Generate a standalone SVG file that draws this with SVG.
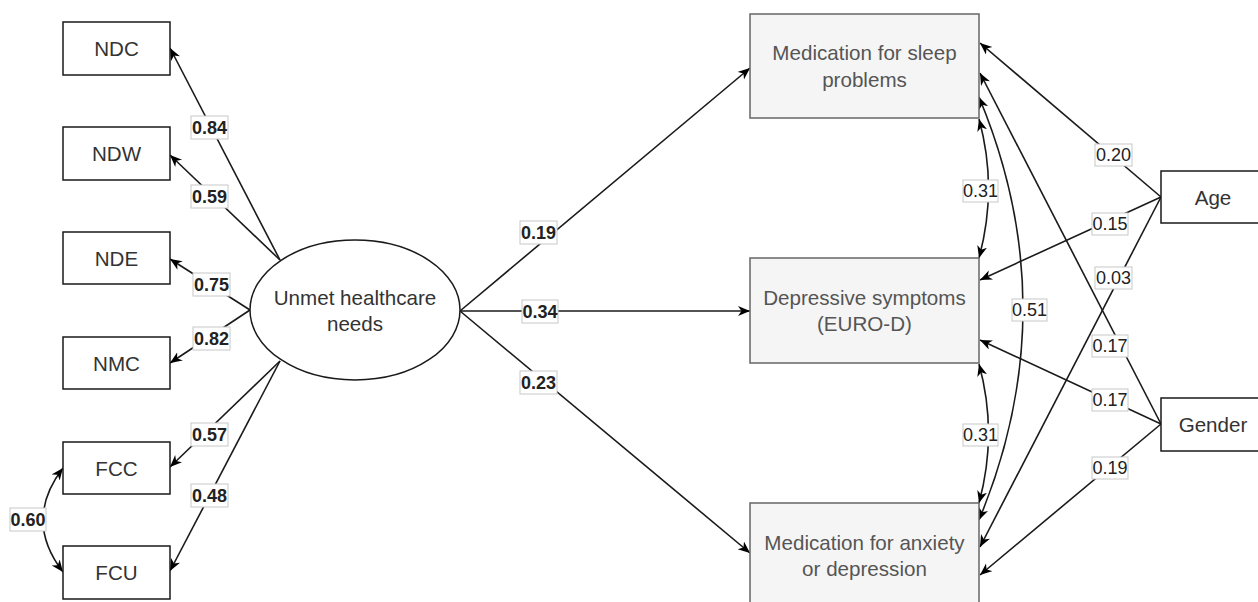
<svg xmlns="http://www.w3.org/2000/svg" width="1258" height="602" viewBox="0 0 1258 602">
<style>
.box{fill:#fff;stroke:#1a1a1a;stroke-width:1.5}
.gbox{fill:#f5f5f5;stroke:#666;stroke-width:1.5}
.nt{font-family:"Liberation Sans",Arial,sans-serif;font-size:20.6px;fill:#333;text-anchor:middle;dominant-baseline:central}
.gt{font-family:"Liberation Sans",Arial,sans-serif;font-size:20.6px;fill:#555;text-anchor:middle;dominant-baseline:central}
.ln{fill:none;stroke:#1a1a1a;stroke-width:1.6}
.lb{fill:#fff;stroke:#c8c8c8;stroke-width:1}
.lt{font-family:"Liberation Sans",Arial,sans-serif;font-size:18px;fill:#222;text-anchor:middle;dominant-baseline:central}
.b{font-weight:bold}
</style>
<defs>
<marker id="ar" markerUnits="userSpaceOnUse" markerWidth="14" markerHeight="12" refX="12" refY="5" orient="auto-start-reverse">
<path d="M0,0 L12,5 L0,10 L3.5,5 Z" fill="#000"/>
</marker>
</defs>
<g id="connectors">
<path class="ln" d="M280,260 L170,48" marker-end="url(#ar)"/>
<path class="ln" d="M280,260 L170,155" marker-end="url(#ar)"/>
<path class="ln" d="M250,310 L170,259" marker-end="url(#ar)"/>
<path class="ln" d="M250,310 L170,363" marker-end="url(#ar)"/>
<path class="ln" d="M280,361 L170,467" marker-end="url(#ar)"/>
<path class="ln" d="M280,361 L170,571" marker-end="url(#ar)"/>
<path class="ln" d="M63,468 Q23,520 63,572" marker-start="url(#ar)" marker-end="url(#ar)"/>
<path class="ln" d="M460,311 L750,68" marker-end="url(#ar)"/>
<path class="ln" d="M460,311 L750,311" marker-end="url(#ar)"/>
<path class="ln" d="M460,311 L750,553" marker-end="url(#ar)"/>
<path class="ln" d="M979,119 Q998,188 979,258" marker-start="url(#ar)" marker-end="url(#ar)"/>
<path class="ln" d="M979,364 Q998,433 979,503" marker-start="url(#ar)" marker-end="url(#ar)"/>
<path class="ln" d="M979,97 Q1067,308 979,520" marker-start="url(#ar)" marker-end="url(#ar)"/>
<path class="ln" d="M1161,197 L980,43" marker-end="url(#ar)"/>
<path class="ln" d="M1161,197 L980,280" marker-end="url(#ar)"/>
<path class="ln" d="M1161,197 L980,547" marker-end="url(#ar)"/>
<path class="ln" d="M1161,424 L980,73" marker-end="url(#ar)"/>
<path class="ln" d="M1161,424 L980,340" marker-end="url(#ar)"/>
<path class="ln" d="M1161,424 L980,575" marker-end="url(#ar)"/>
</g>
<g id="labels">
<rect class="lb" x="191" y="116" width="37" height="23"/><text class="lt b" x="209.5" y="127.5">0.84</text>
<rect class="lb" x="191" y="185" width="37" height="23"/><text class="lt b" x="209.5" y="196.5">0.59</text>
<rect class="lb" x="193" y="273" width="37" height="23"/><text class="lt b" x="211.5" y="284.5">0.75</text>
<rect class="lb" x="193" y="327" width="37" height="23"/><text class="lt b" x="211.5" y="338.5">0.82</text>
<rect class="lb" x="191" y="423" width="37" height="23"/><text class="lt b" x="209.5" y="434.5">0.57</text>
<rect class="lb" x="191" y="484" width="37" height="23"/><text class="lt b" x="209.5" y="495.5">0.48</text>
<rect class="lb" x="10" y="508" width="36" height="23"/><text class="lt b" x="28" y="519.5">0.60</text>
<rect class="lb" x="520" y="221" width="37" height="23"/><text class="lt b" x="538.5" y="232.5">0.19</text>
<rect class="lb" x="522" y="300" width="36" height="23"/><text class="lt b" x="540" y="311.5">0.34</text>
<rect class="lb" x="520" y="371" width="37" height="23"/><text class="lt b" x="538.5" y="382.5">0.23</text>
<rect class="lb" x="963" y="180" width="35" height="22"/><text class="lt" x="980.5" y="191">0.31</text>
<rect class="lb" x="963" y="424" width="35" height="22"/><text class="lt" x="980.5" y="435">0.31</text>
<rect class="lb" x="1012" y="299" width="35" height="22"/><text class="lt" x="1029.5" y="310">0.51</text>
<rect class="lb" x="1095" y="144" width="37" height="22"/><text class="lt" x="1113.5" y="155">0.20</text>
<rect class="lb" x="1092" y="213" width="36" height="22"/><text class="lt" x="1110" y="224">0.15</text>
<rect class="lb" x="1095" y="267" width="37" height="22"/><text class="lt" x="1113.5" y="278">0.03</text>
<rect class="lb" x="1092" y="335" width="36" height="22"/><text class="lt" x="1110" y="346">0.17</text>
<rect class="lb" x="1092" y="389" width="36" height="22"/><text class="lt" x="1110" y="400">0.17</text>
<rect class="lb" x="1092" y="457" width="36" height="22"/><text class="lt" x="1110" y="468">0.19</text>
</g>
<g id="NDC"><rect class="box" x="63" y="22" width="107" height="53"/><text class="nt" x="116.5" y="48.5">NDC</text></g>
<g id="NDW"><rect class="box" x="63" y="127" width="107" height="53"/><text class="nt" x="116.5" y="153.5">NDW</text></g>
<g id="NDE"><rect class="box" x="63" y="232" width="107" height="52"/><text class="nt" x="116.5" y="258">NDE</text></g>
<g id="NMC"><rect class="box" x="63" y="337" width="107" height="52"/><text class="nt" x="116.5" y="363">NMC</text></g>
<g id="FCC"><rect class="box" x="63" y="442" width="107" height="52"/><text class="nt" x="116.5" y="468">FCC</text></g>
<g id="FCU"><rect class="box" x="63" y="546" width="107" height="53"/><text class="nt" x="116.5" y="572.5">FCU</text></g>
<g id="unmet"><ellipse class="box" cx="355" cy="310" rx="105" ry="70"/><text class="nt" x="355" y="297.5">Unmet healthcare</text><text class="nt" x="355" y="323">needs</text></g>
<g id="sleep"><rect class="gbox" x="750" y="14" width="229" height="104"/><text class="gt" x="864.5" y="52.5">Medication for sleep</text><text class="gt" x="864.5" y="79">problems</text></g>
<g id="depressive"><rect class="gbox" x="750" y="258" width="229" height="105"/><text class="gt" x="864.5" y="297.5">Depressive symptoms</text><text class="gt" x="864.5" y="323.5">(EURO-D)</text></g>
<g id="anxiety"><rect class="gbox" x="750" y="503" width="229" height="105"/><text class="gt" x="864.5" y="542">Medication for anxiety</text><text class="gt" x="864.5" y="568.5">or depression</text></g>
<g id="age"><rect class="box" x="1161" y="171" width="104" height="52"/><text class="nt" x="1213" y="197">Age</text></g>
<g id="gender"><rect class="box" x="1161" y="398" width="104" height="53"/><text class="nt" x="1213" y="424.5">Gender</text></g>
</svg>
